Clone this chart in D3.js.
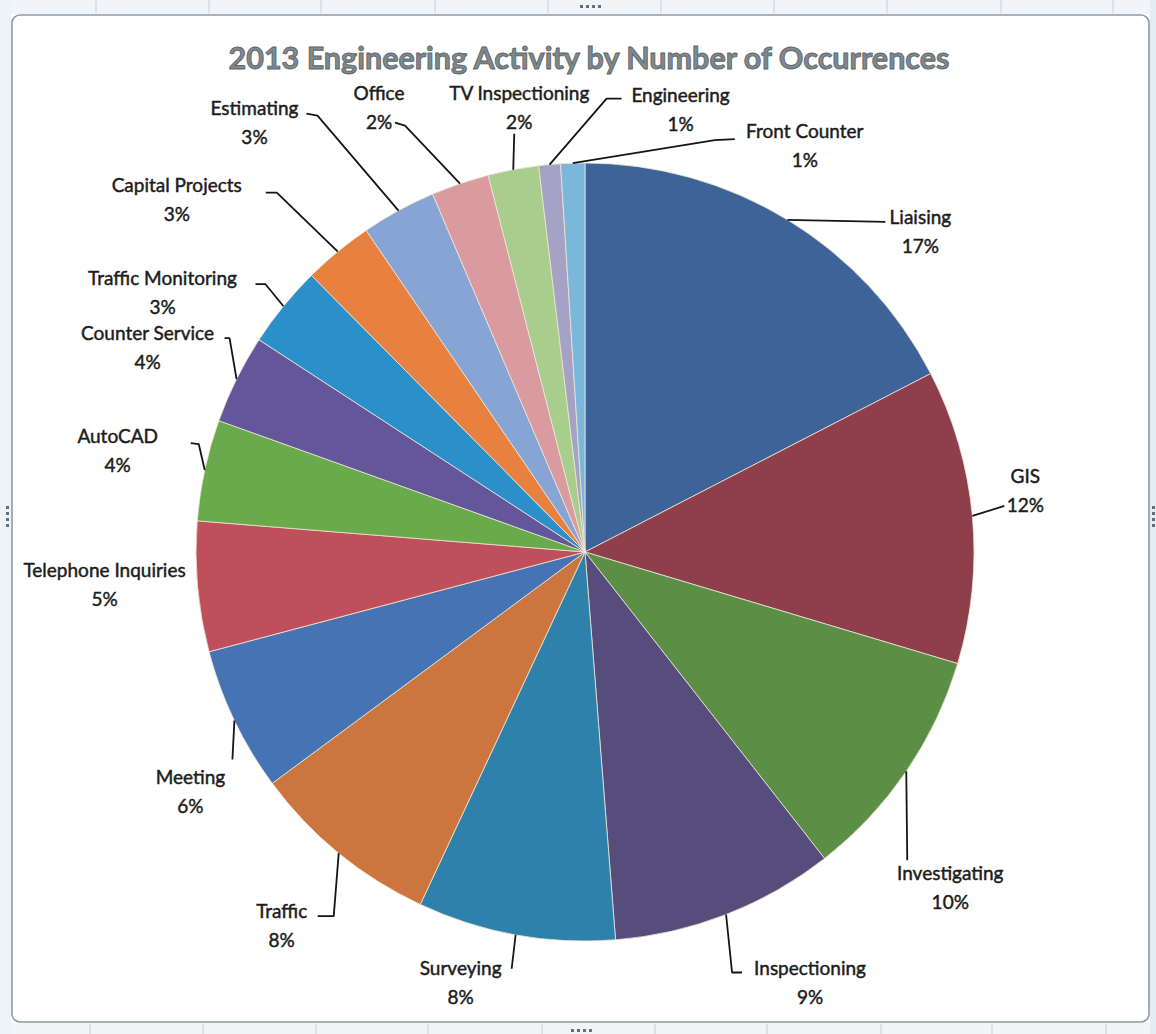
<!DOCTYPE html>
<html>
<head>
<meta charset="utf-8">
<script src="https://cdn.jsdelivr.net/npm/d3@7"></script>
<style>
  html, body { margin: 0; padding: 0; background: #ffffff; }
  svg { display: block; }
</style>
</head>
<body>
<svg id="chart" width="1156" height="1034"></svg>
<script>
// 2013 engineering activity, number of occurrences per activity (clockwise from 12 o'clock)
const categories = [
  "Liaising", "GIS", "Investigating", "Inspectioning", "Surveying", "Traffic",
  "Meeting", "Telephone Inquiries", "AutoCAD", "Counter Service", "Traffic Monitoring",
  "Capital Projects", "Estimating", "Office", "TV Inspectioning", "Engineering", "Front Counter"
];
const occurrences = [174, 122, 98, 93, 82, 79, 60, 54, 42, 37, 34, 29, 31, 24, 21, 9, 10];

// slice fills, one per category
const palette = [
  "#3d6399", "#8f3e4b", "#5b8f45", "#574d7c", "#2d81ab", "#cd753f",
  "#4673b3", "#bf4f5b", "#68aa4c", "#64569a", "#2b8fca",
  "#e8813f", "#86a5d5", "#d99b9f", "#a8cd8c", "#a6a2c6", "#7bb6db"
];

// label placement relative to the slice's outer edge point: [dx, dy] of the first text line
const labelOffsets = [
  [133, 4], [53, -33], [44, 109], [84, 60], [-55, 40], [-57, 65],
  [-44, 63], [-93, -10], [-87, -27], [-89, -39], [-121, -21],
  [-161, -60], [-144, -96], [-81, -84], [6, -70], [131, -63], [232, -25]
];
// leader line bends, relative to the same edge point
const leaderBends = [
  [[98, 2]], [[32, -10]], [[1, 89]], [[6, 58], [16, 58]], [[-4, 34]], [[-5, 63], [-21, 63]],
  [[-2, 39]], [], [[-6, -26], [-14, -27]], [[-7, -41], [-12, -41]], [[-18, -22], [-28, -22]],
  [[-61, -59], [-72, -59]], [[-81, -95], [-92, -97]], [[-55, -58], [-65, -61]], [[1, -36]],
  [[57, -66], [72, -66]], [[142, -23], [162, -24]]
];

const titleText = "2013 Engineering Activity by Number of Occurrences";

const W = 1156, H = 1034;
const cx = 585, cy = 552, radius = 389;
const svg = d3.select("#chart");

// spreadsheet surroundings and chart frame
const outer = svg.append("g");
outer.append("rect").attr("x", 0).attr("y", 0).attr("width", W).attr("height", 14).attr("fill", "#f1f5f8");
outer.append("rect").attr("x", 0).attr("y", 1023).attr("width", W).attr("height", 11).attr("fill", "#f1f5f8");
outer.append("rect").attr("x", 0).attr("y", 0).attr("width", 11).attr("height", H).attr("fill", "#eef3f7");
outer.append("rect").attr("x", 1150).attr("y", 0).attr("width", 6).attr("height", H).attr("fill", "#e4edf3");
const topCols = [96, 209, 321, 435, 548, 661, 774, 887, 1001, 1113];
const botCols = [90, 203, 316, 428, 542, 655, 767, 881, 992, 1106];
outer.selectAll("line.tc").data(topCols).join("line")
  .attr("x1", d => d).attr("x2", d => d).attr("y1", 0).attr("y2", 13)
  .attr("stroke", "#c3d0da").attr("stroke-width", 1);
outer.selectAll("line.bc").data(botCols).join("line")
  .attr("x1", d => d).attr("x2", d => d).attr("y1", 1024).attr("y2", 1034)
  .attr("stroke", "#c3d0da").attr("stroke-width", 1);
outer.append("rect")
  .attr("x", 12).attr("y", 15).attr("width", 1137).attr("height", 1007)
  .attr("rx", 8).attr("ry", 8)
  .attr("fill", "#ffffff").attr("stroke", "#8e9aa4").attr("stroke-width", 1.6);
// sizing handles
const handles = [
  {x: 580, y: 5, horiz: true}, {x: 571, y: 1029, horiz: true},
  {x: 6, y: 506, horiz: false}, {x: 1152, y: 506, horiz: false}
];
handles.forEach(h => {
  for (let i = 0; i < 4; i++) {
    outer.append("rect")
      .attr("x", h.horiz ? h.x + i * 6 : h.x)
      .attr("y", h.horiz ? h.y : h.y + i * 6)
      .attr("width", 3).attr("height", 3).attr("fill", "#5d6f80");
  }
});

// title
svg.append("text")
  .attr("x", 589).attr("y", 69)
  .attr("text-anchor", "middle")
  .attr("font-family", "Lato, 'Open Sans', sans-serif")
  .attr("font-weight", "bold")
  .attr("font-size", 30.5)
  .attr("fill", "#7f898e")
  .attr("stroke", "#5c656a").attr("stroke-width", 0.9)
  .text(titleText);

// pie
const total = d3.sum(occurrences);
const pie = d3.pie().sort(null).value(d => d);
const arcs = pie(occurrences);
const arc = d3.arc().innerRadius(0).outerRadius(radius);

const g = svg.append("g").attr("transform", `translate(${cx},${cy})`);
g.selectAll("path.slice").data(arcs).join("path")
  .attr("class", "slice")
  .attr("d", arc)
  .attr("fill", (d, i) => palette[i])
  .attr("stroke", "#efe6d6").attr("stroke-width", 0.8);

// labels and leader lines
const labels = svg.append("g")
  .attr("font-family", "Lato, 'Open Sans', sans-serif")
  .attr("font-size", 19)
  .attr("fill", "#1c1c1c");

arcs.forEach((a, i) => {
  const mid = (a.startAngle + a.endAngle) / 2;
  const px = cx + radius * Math.sin(mid);
  const py = cy - radius * Math.cos(mid);
  const bends = leaderBends[i];
  if (bends.length) {
    const pts = [[px, py]].concat(bends.map(b => [px + b[0], py + b[1]]));
    labels.append("path")
      .attr("d", d3.line()(pts))
      .attr("fill", "none").attr("stroke", "#151515").attr("stroke-width", 1.8)
      .attr("stroke-linejoin", "round");
  }
  const lx = px + labelOffsets[i][0];
  const ly = py + labelOffsets[i][1];
  const pct = Math.round(occurrences[i] / total * 100) + "%";
  const t = labels.append("text").attr("text-anchor", "middle")
    .attr("stroke", "#1c1c1c").attr("stroke-width", 0.45);
  t.append("tspan").attr("x", lx).attr("y", ly).text(categories[i]);
  t.append("tspan").attr("x", lx).attr("y", ly + 29).text(pct);
});
</script>
</body>
</html>
